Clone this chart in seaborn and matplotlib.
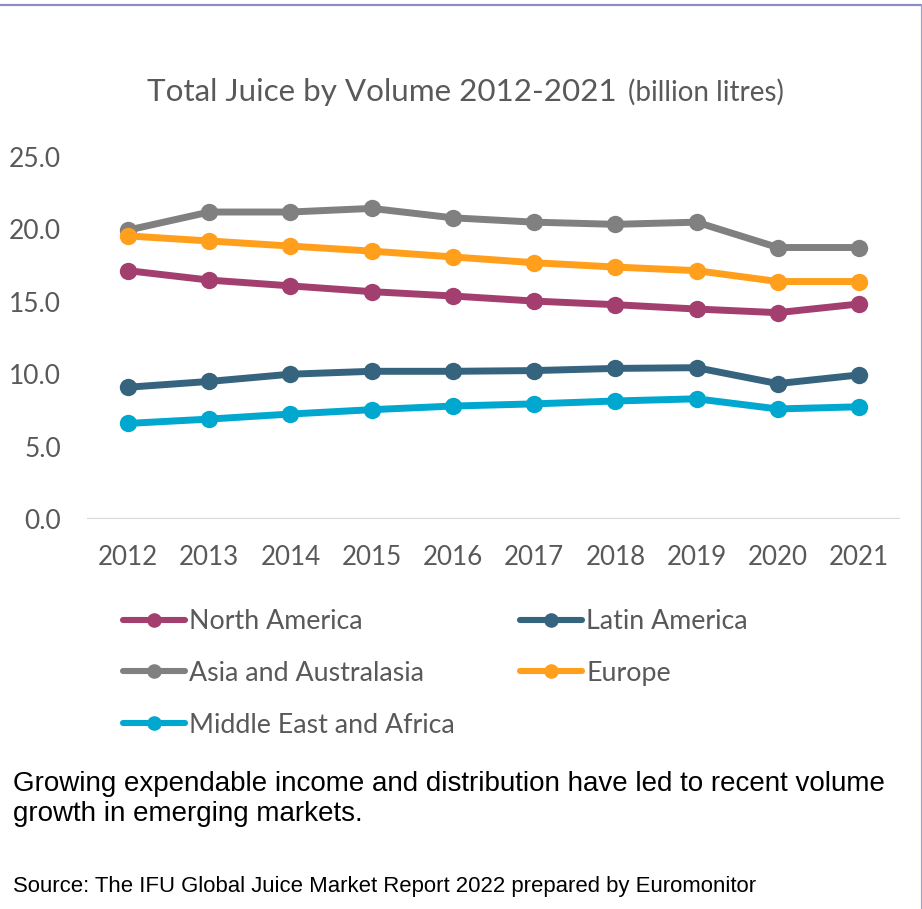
import matplotlib
matplotlib.use("Agg")
import matplotlib.pyplot as plt
from matplotlib.lines import Line2D
import seaborn as sns
import pandas as pd

years = ["2012", "2013", "2014", "2015", "2016", "2017", "2018", "2019", "2020", "2021"]
north_america = [17.15, 16.5, 16.1, 15.7, 15.4, 15.05, 14.8, 14.5, 14.25, 14.85]
latin_america = [9.1, 9.5, 10.0, 10.2, 10.2, 10.25, 10.4, 10.45, 9.35, 9.95]
asia_australasia = [19.95, 21.2, 21.2, 21.45, 20.8, 20.5, 20.35, 20.5, 18.75, 18.75]
europe = [19.55, 19.2, 18.85, 18.5, 18.1, 17.7, 17.4, 17.15, 16.4, 16.4]
middle_east_africa = [6.6, 6.9, 7.25, 7.55, 7.8, 7.95, 8.15, 8.3, 7.6, 7.75]

series_names = ["North America", "Latin America", "Asia and Australasia", "Europe",
                "Middle East and Africa"]
series_values = [north_america, latin_america, asia_australasia, europe, middle_east_africa]
colors = {"North America": "#A33F6F", "Latin America": "#36647E",
          "Asia and Australasia": "#808080", "Europe": "#FF9F1C",
          "Middle East and Africa": "#00A7CF"}
yticks = [0, 5, 10, 15, 20, 25]
ytick_labels = ["0.0", "5.0", "10.0", "15.0", "20.0", "25.0"]

rows = []
for name, vals in zip(series_names, series_values):
    for y, v in zip(years, vals):
        rows.append({"Year": y, "Region": name, "Value": v})
df = pd.DataFrame(rows)

sns.set_theme(style="white")
plt.rcParams["font.family"] = ["Lato", "DejaVu Sans"]

W, H = 922, 909
fig = plt.figure(figsize=(W / 100, H / 100), dpi=100)
ax = fig.add_axes([87.4 / W, 1 - 519 / H, (899.6 - 87.4) / W, (519 - 157) / H])

ax.axhline(0, color="#D9D9D9", lw=1.6, zorder=1)
sns.lineplot(data=df, x="Year", y="Value", hue="Region", palette=colors,
             hue_order=series_names, marker="o", markersize=12.5, markeredgewidth=0,
             linewidth=5.0, ax=ax, legend=False, zorder=3)

ax.set_xlim(-0.5, 9.5)
ax.set_ylim(0, 25)
ax.set_yticks(yticks)
ax.set_yticklabels(ytick_labels)
ax.set_xlabel("")
ax.set_ylabel("")
for s in ax.spines.values():
    s.set_visible(False)
ax.tick_params(axis="y", length=0, pad=19, labelsize=19, labelcolor="#595959")
ax.tick_params(axis="x", length=0, pad=19, labelsize=18.7, labelcolor="#595959")

# legend
order = ["North America", "Asia and Australasia", "Middle East and Africa",
         "Latin America", "Europe"]
handles = [Line2D([], [], color=colors[n], lw=4.4, marker="o", markersize=10.5,
                  markeredgewidth=0) for n in order]
leg = fig.legend(handles, order, loc="upper left", bbox_to_anchor=(123 / W, 1 - 609 / H),
                 ncol=2, frameon=False, fontsize=19.3, handlelength=2.3,
                 handletextpad=0.15, labelspacing=1.0, columnspacing=2.46,
                 borderaxespad=0, borderpad=0)
for t in leg.get_texts():
    t.set_color("#595959")

# title
fig.text(147 / W, 1 - 101 / H, "Total Juice by Volume 2012-2021", fontsize=22.6,
         color="#595959", ha="left", va="baseline")
fig.text(628 / W, 1 - 101 / H, "(billion litres)", fontsize=20,
         color="#595959", ha="left", va="baseline")

# footnotes
fn = ["Liberation Sans", "DejaVu Sans"]
fig.text(13 / W, 1 - 791 / H, "Growing expendable income and distribution have led to recent volume",
         fontsize=20, color="black", ha="left", va="baseline", family=fn)
fig.text(13 / W, 1 - 821 / H, "growth in emerging markets.",
         fontsize=20, color="black", ha="left", va="baseline", family=fn)
fig.text(13 / W, 1 - 892 / H, "Source: The IFU Global Juice Market Report 2022 prepared by Euromonitor",
         fontsize=15.9, color="black", ha="left", va="baseline", family=fn)

# border lines
fig.add_artist(Line2D([0, 921 / W], [1 - 5 / H, 1 - 5 / H], color="#8C8CC8", lw=1.6,
                      transform=fig.transFigure))
fig.add_artist(Line2D([921 / W, 921 / W], [0, 1 - 5 / H], color="#A0A0D0", lw=0.8,
                      transform=fig.transFigure))

fig.savefig("out.png", dpi=100)
